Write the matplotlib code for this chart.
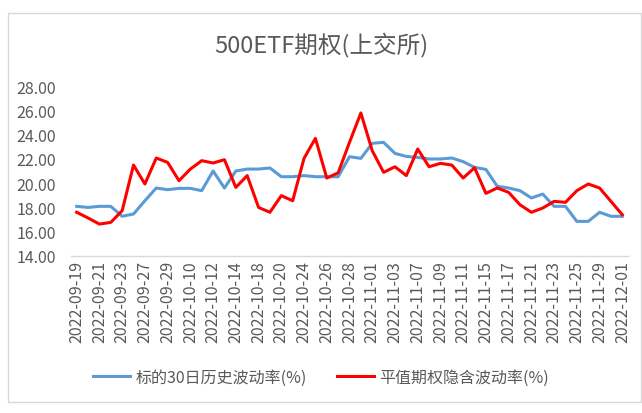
import matplotlib
matplotlib.use('Agg')
import matplotlib.pyplot as plt
from matplotlib.patches import Rectangle

plt.rcParams['font.family'] = ['Noto Sans CJK SC', 'DejaVu Sans']

dates = ['2022-09-19', '2022-09-20', '2022-09-21', '2022-09-22', '2022-09-23',
         '2022-09-26', '2022-09-27', '2022-09-28', '2022-09-29', '2022-09-30',
         '2022-10-10', '2022-10-11', '2022-10-12', '2022-10-13', '2022-10-14',
         '2022-10-17', '2022-10-18', '2022-10-19', '2022-10-20', '2022-10-21',
         '2022-10-24', '2022-10-25', '2022-10-26', '2022-10-27', '2022-10-28',
         '2022-10-31', '2022-11-01', '2022-11-02', '2022-11-03', '2022-11-04',
         '2022-11-07', '2022-11-08', '2022-11-09', '2022-11-10', '2022-11-11',
         '2022-11-14', '2022-11-15', '2022-11-16', '2022-11-17', '2022-11-18',
         '2022-11-21', '2022-11-22', '2022-11-23', '2022-11-24', '2022-11-25',
         '2022-11-28', '2022-11-29', '2022-11-30', '2022-12-01']

hist_vol = [18.09, 18.00, 18.09, 18.09, 17.27, 17.46, 18.55, 19.60, 19.46, 19.57,
            19.57, 19.38, 21.00, 19.60, 21.00, 21.16, 21.16, 21.25, 20.53, 20.53,
            20.62, 20.53, 20.53, 20.53, 22.18, 22.04, 23.28, 23.36, 22.45, 22.20,
            22.12, 21.99, 21.99, 22.07, 21.77, 21.30, 21.13, 19.74, 19.60, 19.38,
            18.78, 19.10, 18.09, 18.09, 16.85, 16.85, 17.60, 17.27, 17.27]

atm_iv = [17.60, 17.13, 16.63, 16.77, 17.73, 21.49, 19.93, 22.07, 21.71, 20.20,
          21.16, 21.85, 21.66, 21.93, 19.65, 20.62, 18.00, 17.60, 18.97, 18.55,
          22.04, 23.69, 20.42, 20.85, 23.36, 25.78, 22.67, 20.89, 21.35, 20.62,
          22.81, 21.35, 21.63, 21.49, 20.42, 21.27, 19.16, 19.60, 19.24, 18.22,
          17.60, 17.95, 18.50, 18.42, 19.38, 19.93, 19.60, 18.50, 17.40]

yticks = [14, 16, 18, 20, 22, 24, 26, 28]

text_color = '#595959'

fig = plt.figure(figsize=(6.42, 4.14), dpi=100)
fig.patches.append(Rectangle((8 / 642, 1 - 403 / 414), 633 / 642, 389 / 414,
                             transform=fig.transFigure, fill=False,
                             edgecolor='#D9D9D9', linewidth=1))

ax = fig.add_axes([71 / 642, 1 - 257 / 414, 557 / 642, 170 / 414])
x = list(range(len(dates)))
ax.plot(x, hist_vol, color='#5B9BD5', linewidth=2.2, label='标的30日历史波动率(%)')
ax.plot(x, atm_iv, color='#FF0000', linewidth=2.2, label='平值期权隐含波动率(%)')

ax.set_xlim(-0.5, len(dates) - 0.5)
ax.set_ylim(14, 28)
ax.set_yticks(yticks)
ax.set_yticklabels(['%.2f' % v for v in yticks])
ax.set_xticks(x[::2])
ax.set_xticklabels(dates[::2], rotation=90)

for s in ['top', 'right', 'left']:
    ax.spines[s].set_visible(False)
ax.spines['bottom'].set_color('#D9D9D9')
ax.spines['bottom'].set_linewidth(1)
ax.tick_params(axis='both', length=0, colors=text_color, labelsize=11.5)
ax.tick_params(axis='y', pad=11)
ax.tick_params(axis='x', pad=3)

fig.text(0.5, 1 - 45 / 414, '500ETF期权(上交所)', ha='center', va='center',
         fontsize=17, color=text_color)

fig.legend(loc='center', bbox_to_anchor=(0.5, 1 - 378 / 414), ncol=2, frameon=False,
           fontsize=11.5, labelcolor=text_color, handlelength=2.3,
           handletextpad=0.35, columnspacing=1.9)

fig.savefig('out.png', dpi=100)
